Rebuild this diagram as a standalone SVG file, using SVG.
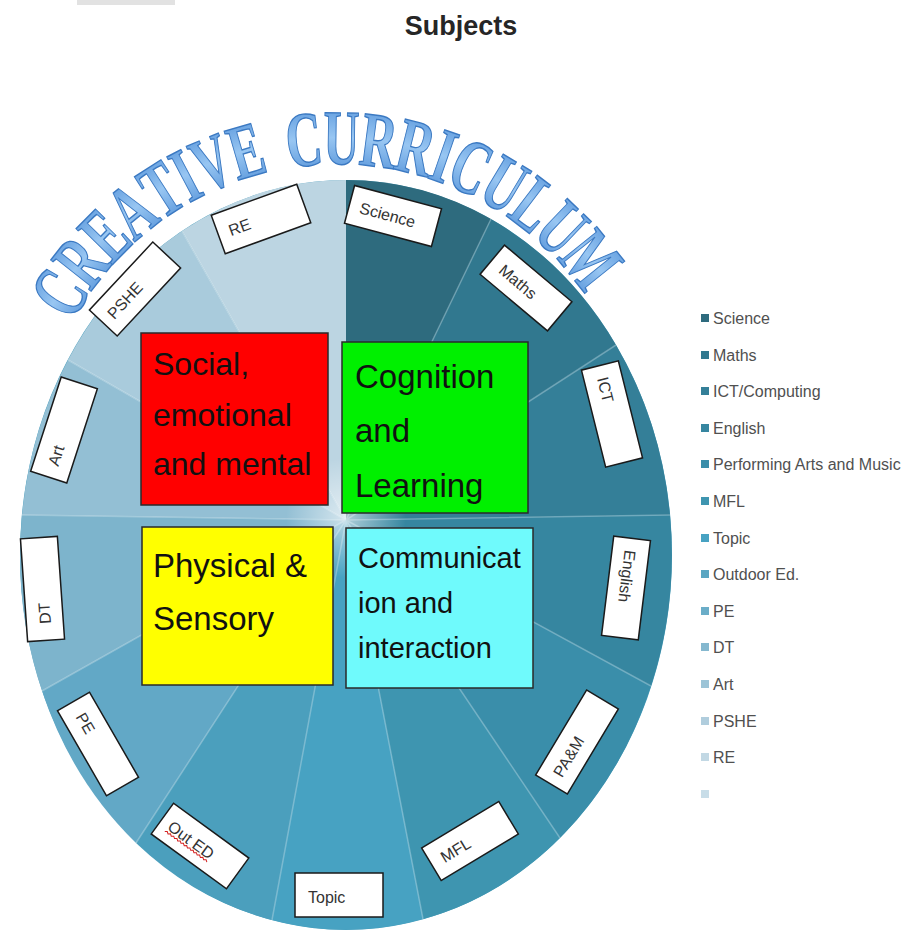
<svg xmlns="http://www.w3.org/2000/svg" width="920" height="931" viewBox="0 0 920 931">
<defs>
<style>
.sl{stroke:none}
.sep{stroke:#ffffff;stroke-opacity:0.28;stroke-width:1.5;fill:none}
.lbl rect{fill:#ffffff;stroke:#1a1a1a;stroke-width:1.5}
.lbl text{font-family:"Liberation Sans",Arial,sans-serif;font-size:16px;fill:#333333}
.quad rect{stroke:#2a2a2a;stroke-width:1.5}
.quad text{font-family:"Liberation Sans",Arial,sans-serif;fill:#111111}
.leg text{font-family:"Liberation Sans",Arial,sans-serif;font-size:16px;fill:#505050}
.wa text{font-family:"Liberation Serif","Times New Roman",serif;font-weight:bold;font-size:78px;fill:url(#waGrad);stroke:#3b79c2;stroke-width:1.4;text-anchor:middle}
</style>
<linearGradient id="waGrad" x1="0" y1="0" x2="0" y2="1">
<stop offset="0" stop-color="#4f8fd8"/>
<stop offset="0.5" stop-color="#98c6f2"/>
<stop offset="1" stop-color="#4b8bd5"/>
</linearGradient>
<radialGradient id="glow" cx="0.5" cy="0.5" r="0.5">
<stop offset="0" stop-color="#ffffff" stop-opacity="0.6"/>
<stop offset="1" stop-color="#ffffff" stop-opacity="0"/>
</radialGradient>
</defs>
<rect width="920" height="931" fill="#ffffff"/>
<rect x="77" y="0" width="98" height="5" fill="#e2e2e2"/>
<text x="461" y="35" text-anchor="middle" font-family="Liberation Sans,Arial,sans-serif" font-weight="bold" font-size="27" fill="#262626">Subjects</text>

<g id="pie">
<ellipse cx="346" cy="555" rx="326" ry="375" fill="#4a9fbd"/>
<path class="sl" fill="#2e6b7e" d="M346,520 L346,180 A326,375 0 0 1 491,219 Z"/>
<path class="sl" fill="#31788f" d="M346,520 L491,219 A326,375 0 0 1 616,345 Z"/>
<path class="sl" fill="#347f98" d="M346,520 L616,345 A326,375 0 0 1 670,515 Z"/>
<path class="sl" fill="#3686a0" d="M346,520 L670,515 A326,375 0 0 1 651,686 Z"/>
<path class="sl" fill="#3a8eaa" d="M346,520 L651,686 A326,375 0 0 1 560,838 Z"/>
<path class="sl" fill="#3e95b0" d="M346,520 L560,838 A326,375 0 0 1 423,919 Z"/>
<path class="sl" fill="#47a2c2" d="M346,520 L423,919 A326,375 0 0 1 272,920 Z"/>
<path class="sl" fill="#4b9fbd" d="M346,520 L272,920 A326,375 0 0 1 136,843 Z"/>
<path class="sl" fill="#62a8c6" d="M346,520 L136,843 A326,375 0 0 1 42,691 Z"/>
<path class="sl" fill="#7db4cc" d="M346,520 L42,691 A326,375 0 0 1 22,515 Z"/>
<path class="sl" fill="#93bfd4" d="M346,520 L22,515 A326,375 0 0 1 68,360 Z"/>
<path class="sl" fill="#a9cbdc" d="M346,520 L68,360 A326,375 0 0 1 182,231 Z"/>
<path class="sl" fill="#bcd5e2" d="M346,520 L182,231 A326,375 0 0 1 346,180 Z"/>
<g class="sep">
<path d="M346,520 L491,219 M346,520 L616,345 M346,520 L670,515 M346,520 L651,686 M346,520 L560,838 M346,520 L423,919 M346,520 L272,920 M346,520 L136,843 M346,520 L42,691 M346,520 L22,515 M346,520 L68,360 M346,520 L182,231"/>
</g>
<circle cx="346" cy="518" r="60" fill="url(#glow)"/>
</g>

<g id="title-arc" class="wa">
<text transform="translate(81.6,306.6) rotate(-58.35) scale(0.64,1)">C</text>
<text transform="translate(101.5,278.2) rotate(-51.74) scale(0.64,1)">R</text>
<text transform="translate(123.5,253.3) rotate(-45.37) scale(0.64,1)">E</text>
<text transform="translate(148.2,230.9) rotate(-39) scale(0.64,1)">A</text>
<text transform="translate(175.2,211.3) rotate(-32.63) scale(0.64,1)">T</text>
<text transform="translate(197.5,198.4) rotate(-27.71) scale(0.64,1)">I</text>
<text transform="translate(221.9,186.9) rotate(-22.56) scale(0.64,1)">V</text>
<text transform="translate(253.4,175.9) rotate(-16.19) scale(0.64,1)">E</text>
<text transform="translate(306.5,165.6) rotate(-5.83) scale(0.64,1)">C</text>
<text transform="translate(341.1,164) rotate(0.78) scale(0.64,1)">U</text>
<text transform="translate(375.5,166.5) rotate(7.38) scale(0.64,1)">R</text>
<text transform="translate(409.5,172.9) rotate(13.99) scale(0.64,1)">R</text>
<text transform="translate(435.4,180.6) rotate(19.15) scale(0.64,1)">I</text>
<text transform="translate(460.5,190.6) rotate(24.31) scale(0.64,1)">C</text>
<text transform="translate(491.1,206.6) rotate(30.92) scale(0.64,1)">U</text>
<text transform="translate(518.7,225.3) rotate(37.29) scale(0.64,1)">L</text>
<text transform="translate(544.1,246.9) rotate(43.66) scale(0.64,1)">U</text>
<text transform="translate(570.9,276.1) rotate(51.24) scale(0.64,1)">M</text>
</g>

<g id="label-science" class="lbl" transform="translate(393,216) rotate(15)"><rect x="-45" y="-19.5" width="90" height="39"/><text x="-34" y="6">Science</text></g>
<g id="label-maths" class="lbl" transform="translate(526,288) rotate(40)"><rect x="-44" y="-19" width="88" height="38"/><text x="-32" y="6">Maths</text></g>
<g id="label-ict" class="lbl" transform="translate(612,414) rotate(76)"><rect x="-50" y="-19" width="100" height="38"/><text x="-38" y="6">ICT</text></g>
<g id="label-english" class="lbl" transform="translate(626,588) rotate(97)"><rect x="-50" y="-18.5" width="100" height="37"/><text x="-38" y="6">English</text></g>
<g id="label-pam" class="lbl" transform="translate(577,742) rotate(-59)"><rect x="-49.5" y="-18.5" width="99" height="37"/><text x="-39" y="6">PA&amp;M</text></g>
<g id="label-mfl" class="lbl" transform="translate(470,841) rotate(-31)"><rect x="-45" y="-19" width="90" height="38"/><text x="-33" y="6">MFL</text></g>
<g id="label-topic" class="lbl" transform="translate(339,895)"><rect x="-44" y="-22" width="88" height="44"/><text x="-31" y="8">Topic</text></g>
<g id="label-outed" class="lbl" transform="translate(200,846) rotate(36)"><rect x="-46.5" y="-19" width="93" height="38"/><text x="-37" y="6">Out ED</text><path d="M-37,9 l2,-1.5 l2,1.5 l2,-1.5 l2,1.5 l2,-1.5 l2,1.5 l2,-1.5 l2,1.5 l2,-1.5 l2,1.5 l2,-1.5 l2,1.5 l2,-1.5 l2,1.5 l2,-1.5 l2,1.5 l2,-1.5 l2,1.5 l2,-1.5 l2,1.5 l2,-1.5 l2,1.5 l2,-1.5 l2,1.5 l2,-1.5 l2,1.5" fill="none" stroke="#d42020" stroke-width="1"/></g>
<g id="label-pe" class="lbl" transform="translate(98,744) rotate(60)"><rect x="-49" y="-18.5" width="98" height="37"/><text x="-35" y="6">PE</text></g>
<g id="label-dt" class="lbl" transform="translate(42.5,589) rotate(-94)"><rect x="-51.5" y="-18.5" width="103" height="37"/><text x="-35" y="6">DT</text></g>
<g id="label-art" class="lbl" transform="translate(64,430) rotate(-72)"><rect x="-49.5" y="-19" width="99" height="38"/><text x="-37" y="6">Art</text></g>
<g id="label-pshe" class="lbl" transform="translate(135,289) rotate(-47)"><rect x="-46.5" y="-19" width="93" height="38"/><text x="-37" y="6">PSHE</text></g>
<g id="label-re" class="lbl" transform="translate(261,219) rotate(-20)"><rect x="-45.5" y="-20.5" width="91" height="41"/><text x="-34" y="6">RE</text></g>

<g id="quad-social" class="quad"><rect x="141" y="333" width="187" height="172" fill="#ff0000"/><text font-size="32"><tspan x="153" y="375">Social,</tspan><tspan x="153" y="426">emotional</tspan><tspan x="153" y="475">and mental</tspan></text></g>
<g id="quad-cognition" class="quad"><rect x="342" y="342" width="186" height="171" fill="#00f000"/><text font-size="33"><tspan x="355" y="388">Cognition</tspan><tspan x="355" y="442">and</tspan><tspan x="355" y="497">Learning</tspan></text></g>
<g id="quad-physical" class="quad"><rect x="142" y="527" width="191" height="158" fill="#ffff00"/><text font-size="33"><tspan x="153" y="577">Physical &amp;</tspan><tspan x="153" y="630">Sensory</tspan></text></g>
<g id="quad-communication" class="quad"><rect x="346" y="528" width="187" height="160" fill="#6ffafc"/><text font-size="29"><tspan x="358" y="568">Communicat</tspan><tspan x="358" y="613">ion and</tspan><tspan x="358" y="658">interaction</tspan></text></g>

<g id="legend" class="leg">
<rect x="701" y="314" width="8" height="8" fill="#2e6b7e"/><text x="713" y="324">Science</text>
<rect x="701" y="351" width="8" height="8" fill="#31788f"/><text x="713" y="361">Maths</text>
<rect x="701" y="387" width="8" height="8" fill="#347f98"/><text x="713" y="397">ICT/Computing</text>
<rect x="701" y="424" width="8" height="8" fill="#3686a0"/><text x="713" y="434">English</text>
<rect x="701" y="460" width="8" height="8" fill="#3a8eaa"/><text x="713" y="470">Performing Arts and Music</text>
<rect x="701" y="497" width="8" height="8" fill="#3e95b0"/><text x="713" y="507">MFL</text>
<rect x="701" y="534" width="8" height="8" fill="#47a2c2"/><text x="713" y="544">Topic</text>
<rect x="701" y="570" width="8" height="8" fill="#5aa6c2"/><text x="713" y="580">Outdoor Ed.</text>
<rect x="701" y="607" width="8" height="8" fill="#6badc8"/><text x="713" y="617">PE</text>
<rect x="701" y="643" width="8" height="8" fill="#85b8cf"/><text x="713" y="653">DT</text>
<rect x="701" y="680" width="8" height="8" fill="#9cc4d7"/><text x="713" y="690">Art</text>
<rect x="701" y="717" width="8" height="8" fill="#b0cddd"/><text x="713" y="727">PSHE</text>
<rect x="701" y="753" width="8" height="8" fill="#c2d8e4"/><text x="713" y="763">RE</text>
<rect x="701" y="790" width="8" height="8" fill="#c8dde8"/>
</g>
</svg>
